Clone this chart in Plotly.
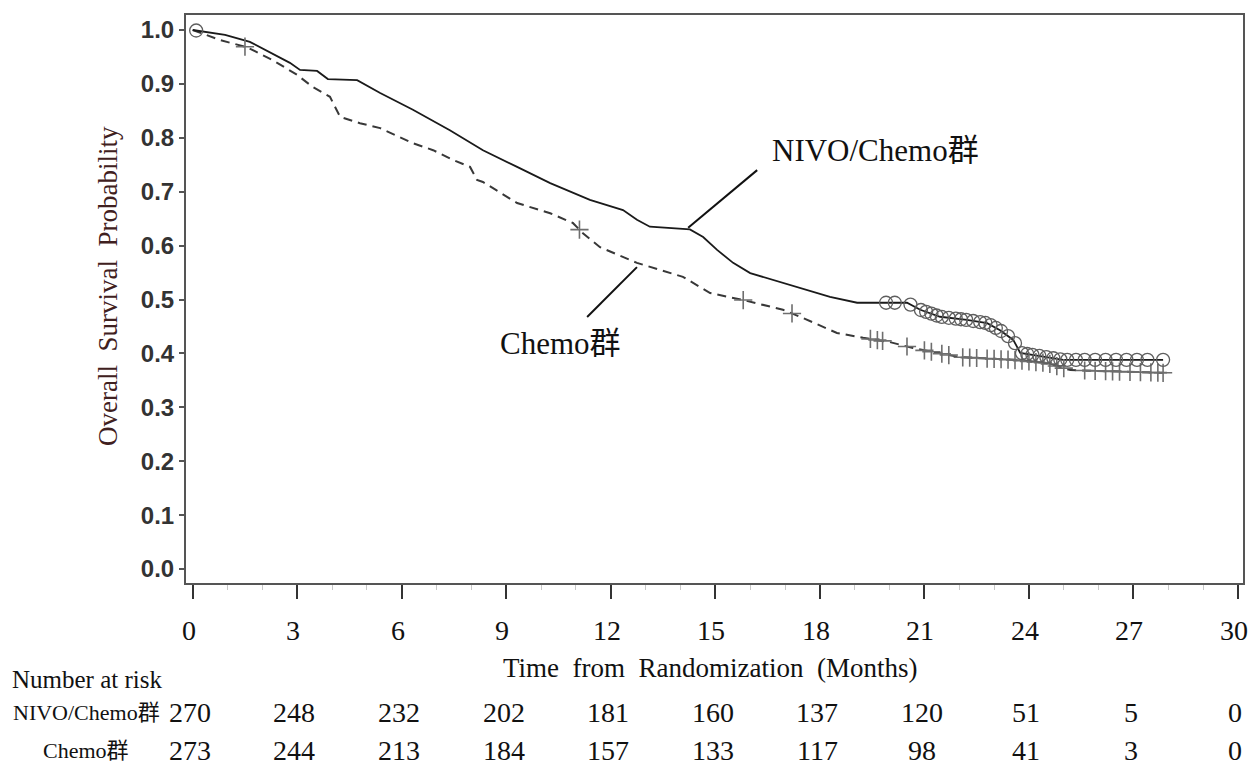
import numpy as np
import plotly.graph_objects as go

# ---------------- data ----------------
nivo_t = [0, 0.93, 1.64, 2.22, 2.79, 3.08, 3.57, 3.88, 4.72, 5.38, 6.32, 7.38, 8.33, 9.31,
          10.26, 11.40, 12.35, 12.75, 13.12, 14.27, 14.65, 15.05, 15.51, 16.0, 16.94, 17.63,
          18.29, 19.07, 20.50, 20.88, 21.45, 22.22, 22.8, 23.17, 23.55, 23.75, 24.52, 24.98, 27.85]
nivo_s = [1.0, 0.991, 0.978, 0.959, 0.939, 0.926, 0.924, 0.909, 0.907, 0.883, 0.852, 0.814,
          0.777, 0.746, 0.716, 0.685, 0.666, 0.648, 0.635, 0.630, 0.616, 0.592, 0.568, 0.549,
          0.531, 0.518, 0.505, 0.494, 0.494, 0.481, 0.468, 0.462, 0.456, 0.443, 0.425, 0.401,
          0.393, 0.388, 0.388]

chemo_t = [0, 0.80, 1.56, 2.30, 2.99, 3.45, 3.94, 4.14, 4.23, 4.80, 5.38, 6.32, 6.90, 7.47,
           7.96, 8.16, 8.33, 9.31, 10.26, 10.91, 11.20, 11.69, 12.75, 14.07, 14.85, 15.80,
           16.94, 17.43, 17.80, 18.49, 19.24, 20.01, 20.67, 21.36, 22.03, 23.55, 24.52, 25.19, 27.85]
chemo_s = [1.0, 0.981, 0.968, 0.944, 0.917, 0.894, 0.876, 0.852, 0.839, 0.827, 0.818, 0.790,
           0.777, 0.759, 0.746, 0.722, 0.718, 0.679, 0.660, 0.642, 0.623, 0.597, 0.568, 0.542,
           0.512, 0.499, 0.481, 0.468, 0.458, 0.438, 0.429, 0.421, 0.410, 0.401, 0.393, 0.388,
           0.382, 0.369, 0.364]

nivo_cens = [0.1, 19.9, 20.15, 20.6, 20.9, 21.05, 21.2, 21.35, 21.5, 21.7, 21.9, 22.05, 22.2,
             22.4, 22.6, 22.75, 22.9, 23.05, 23.2, 23.4, 23.6, 23.8, 23.95, 24.1, 24.3, 24.5,
             24.7, 24.9, 25.1, 25.35, 25.6, 25.9, 26.2, 26.5, 26.8, 27.1, 27.4, 27.85]
chemo_cens = [1.5, 11.1, 15.8, 17.2, 19.45, 19.65, 19.8, 20.5, 21.0, 21.2, 21.5, 21.7, 22.1,
              22.3, 22.5, 22.8, 23.0, 23.2, 23.4, 23.6, 23.8, 24.0, 24.2, 24.4, 24.6, 24.8,
              25.0, 25.6, 25.9, 26.2, 26.4, 26.6, 26.9, 27.2, 27.5, 27.7, 27.85]

x_ticks = [0, 3, 6, 9, 12, 15, 18, 21, 24, 27, 30]
y_ticks = [0.0, 0.1, 0.2, 0.3, 0.4, 0.5, 0.6, 0.7, 0.8, 0.9, 1.0]
risk_nivo = [270, 248, 232, 202, 181, 160, 137, 120, 51, 5, 0]
risk_chemo = [273, 244, 213, 184, 157, 133, 117, 98, 41, 3, 0]

label_nivo = "NIVO/Chemo群"
label_chemo = "Chemo群"

# ---------------- layout geometry ----------------
W, H = 1250, 765
L, R, T, B = 186, 1243, 15, 583
def px(xp):
    return (xp - L) / (R - L)
def py(yp):
    return (B - yp) / (B - T)

SERIF = "Liberation Serif, Times New Roman, Noto Sans CJK JP"

fig = go.Figure()

fig.add_trace(go.Scatter(x=chemo_t, y=chemo_s, mode="lines",
                         line=dict(color="#383838", width=2, dash="9px,6px"),
                         hoverinfo="skip"))
fig.add_trace(go.Scatter(x=nivo_t, y=nivo_s, mode="lines",
                         line=dict(color="#1a1a1a", width=1.8),
                         hoverinfo="skip"))

fig.add_trace(go.Scatter(x=chemo_cens, y=np.interp(chemo_cens, chemo_t, chemo_s), mode="markers",
                         marker=dict(symbol="cross-thin", size=13, line=dict(color="#6e6e6e", width=1.6)),
                         hoverinfo="skip"))
fig.add_trace(go.Scatter(x=nivo_cens, y=np.interp(nivo_cens, nivo_t, nivo_s), mode="markers",
                         marker=dict(symbol="circle-open", size=13, color="#5e5e5e",
                                     line=dict(color="#5e5e5e", width=1.3)),
                         hoverinfo="skip"))

# leader lines
fig.add_shape(type="line", x0=14.22, y0=0.633, x1=16.2, y1=0.740,
              line=dict(color="#111", width=2))
fig.add_shape(type="line", x0=12.75, y0=0.560, x1=11.32, y1=0.4675,
              line=dict(color="#111", width=2))

fig.add_annotation(x=19.61, y=0.777, text=label_nivo, showarrow=False,
                   font=dict(family=SERIF, size=31, color="#111"), xanchor="center", yanchor="middle")
fig.add_annotation(x=10.55, y=0.419, text=label_chemo, showarrow=False,
                   font=dict(family=SERIF, size=31, color="#111"), xanchor="center", yanchor="middle")

# x tick labels (drawn as annotations so the last one stays inside the page)
for t in x_ticks:
    fig.add_annotation(xref="x", yref="paper", x=t, y=py(631), xshift=-4, text=str(t),
                       showarrow=False, font=dict(family=SERIF, size=28, color="#111"),
                       xanchor="center", yanchor="middle")

# axis titles
fig.add_annotation(xref="paper", yref="paper", x=px(710), y=py(668),
                   text="Time  from  Randomization  (Months)", showarrow=False,
                   font=dict(family=SERIF, size=27, color="#111"), xanchor="center", yanchor="middle")
fig.add_annotation(xref="paper", yref="paper", x=px(108), y=py(286),
                   text="Overall  Survival  Probability", showarrow=False, textangle=-90,
                   font=dict(family=SERIF, size=27, color="#3f2020"), xanchor="center", yanchor="middle")

# risk table
fig.add_annotation(xref="paper", yref="paper", x=px(10), y=py(679), text="Number at risk",
                   showarrow=False, font=dict(family=SERIF, size=25, color="#111"),
                   xanchor="left", yanchor="middle")
fig.add_annotation(xref="paper", yref="paper", x=px(86), y=py(712), text=label_nivo,
                   showarrow=False, font=dict(family=SERIF, size=22, color="#111"),
                   xanchor="center", yanchor="middle")
fig.add_annotation(xref="paper", yref="paper", x=px(86), y=py(750), text=label_chemo,
                   showarrow=False, font=dict(family=SERIF, size=22, color="#111"),
                   xanchor="center", yanchor="middle")
for t, a, b in zip(x_ticks, risk_nivo, risk_chemo):
    fig.add_annotation(xref="x", yref="paper", x=t - 0.08, y=py(712), text=str(a), showarrow=False,
                       font=dict(family=SERIF, size=28, color="#111"), xanchor="center", yanchor="middle")
    fig.add_annotation(xref="x", yref="paper", x=t - 0.08, y=py(750), text=str(b), showarrow=False,
                       font=dict(family=SERIF, size=28, color="#111"), xanchor="center", yanchor="middle")

x0 = -(192.7 - L) / 34.84
x1 = 30 + (R - 1238) / 34.84
y0 = -(B - 569) / 539
y1 = 1 + (30 - T) / 539

fig.update_layout(
    width=W, height=H, margin=dict(l=L, r=W - R, t=T, b=H - B, autoexpand=False),
    paper_bgcolor="white", plot_bgcolor="white", showlegend=False,
    xaxis=dict(range=[x0, x1], tickvals=x_ticks, showticklabels=False,
               ticks="outside", ticklen=14, tickwidth=2, tickcolor="#333",
               showline=True, linecolor="#555", linewidth=2, mirror=True,
               showgrid=False, zeroline=False, automargin=False,
               minor=dict(dtick=1, ticks="outside", ticklen=5, tickcolor="#c8c8c8", tickwidth=1,
                          showgrid=False)),
    yaxis=dict(range=[y0, y1], tickvals=y_ticks, ticktext=[f"{v:.1f}" for v in y_ticks],
               ticks="outside", ticklen=5, tickwidth=1.5, tickcolor="#555",
               showline=True, linecolor="#555", linewidth=2, mirror=True,
               showgrid=False, zeroline=False, automargin=False,
               tickfont=dict(family="Liberation Sans, Arial", size=24, color="#333", weight="bold")),
)

fig.write_html("out.html")
